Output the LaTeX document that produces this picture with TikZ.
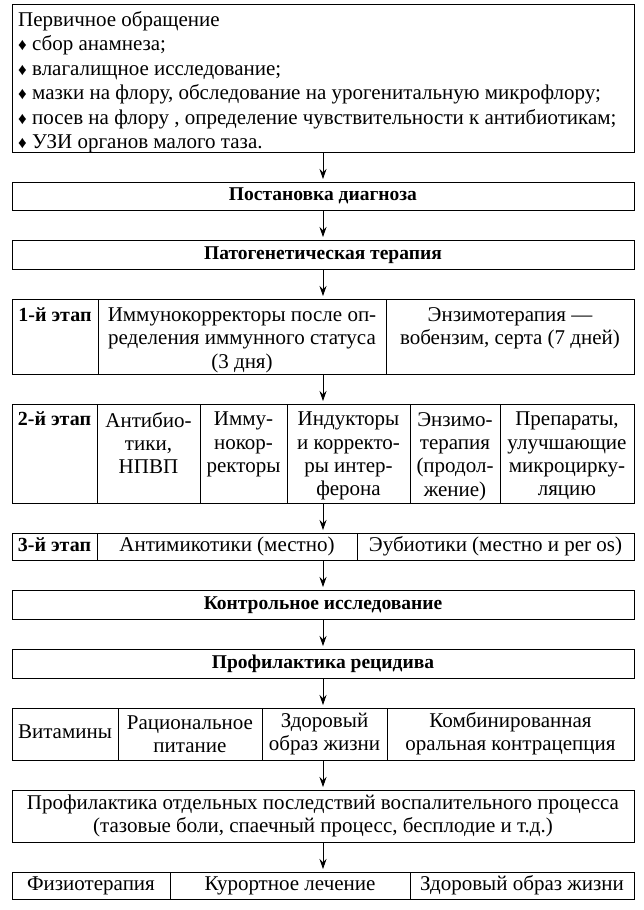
\documentclass[tikz,border=0pt]{standalone}
\usepackage{fontspec}
\setmainfont{Liberation Serif}
\usetikzlibrary{arrows.meta, positioning}
\newcommand{\itemmark}{{\fontsize{17}{17}\selectfont ♦}}
\tikzstyle{frame} = [rectangle, draw=black, line width=0.9pt, inner sep=0pt, outer sep=0pt, align=center, font=\fontsize{21}{23.3}\selectfont]
\tikzstyle{single} = [text height=14pt, text depth=4.5pt]
\tikzstyle{title} = [frame, single, minimum width=622pt, font=\bfseries\fontsize{19.5}{20}\selectfont]
\tikzstyle{row} = [frame, minimum width=622pt]
\tikzstyle{cell} = [frame, anchor=north west]
\tikzstyle{celltext} = [inner sep=0pt, align=center, font=\fontsize{21}{23.3}\selectfont]
\tikzstyle{stage} = [inner sep=0pt, font=\bfseries\fontsize{20}{20}\selectfont]
\tikzstyle{arrow} = [line width=0.8pt, -{Stealth[length=10pt, width=7pt]}, shorten >=3pt]

\begin{document}
\begin{tikzpicture}[node distance = 30pt]
		\useasboundingbox (0,0) rectangle (644pt,-910pt);
		\node (Visit) [row, minimum height=148pt, anchor=north west] at (12pt,-4pt) {};
		\node (VisitText) [celltext, align=left, font=\fontsize{21}{24.5}\selectfont, below right = 7pt and 6pt of Visit.north west] {Первичное обращение\\
			\itemmark\ сбор анамнеза;\\
			\itemmark\ влагалищное исследование;\\
			\itemmark\ мазки на флору, обследование на урогенитальную микрофлору;\\
			\itemmark\ посев на флору , определение чувствительности к антибиотикам;\\
			\itemmark\ УЗИ органов малого таза.};
		\node (Diag) [title, minimum height=28pt, below = of Visit.south west, anchor=north west] {Постановка диагноза};
		\node (Therapy) [title, minimum height=29pt, below = of Diag.south west, anchor=north west] {Патогенетическая терапия};
		% 1-st stage
		\node (StageOne) [row, minimum height=75pt, below = of Therapy.south west, anchor=north west] {};
		\node (StageOneA) [cell, minimum width=86pt, minimum height=75pt] at (StageOne.north west) {};
		\node (StageOneB) [cell, minimum width=288pt, minimum height=75pt] at (StageOneA.north east) {};
		\node (StageOneC) [cell, minimum width=248pt, minimum height=75pt] at (StageOneB.north east) {};
		\node (StageOneAText) [stage, below = 8.5pt of StageOneA.north] {1-й этап};
		\node (StageOneBText) [celltext, below = 8.5pt of StageOneB.north] {Иммунокорректоры после оп-\\ределения иммунного статуса\\(3 дня)};
		\node (StageOneCText) [celltext, below = 8.5pt of StageOneC.north] {Энзимотерапия —\\вобензим, серта (7 дней)};
		% 2-nd stage
		\node (StageTwo) [row, minimum height=99pt, below = of StageOne.south west, anchor=north west] {};
		\node (StageTwoA) [cell, minimum width=85pt, minimum height=99pt] at (StageTwo.north west) {};
		\node (StageTwoB) [cell, minimum width=103pt, minimum height=99pt] at (StageTwoA.north east) {};
		\node (StageTwoC) [cell, minimum width=87pt, minimum height=99pt] at (StageTwoB.north east) {};
		\node (StageTwoD) [cell, minimum width=123pt, minimum height=99pt] at (StageTwoC.north east) {};
		\node (StageTwoE) [cell, minimum width=90pt, minimum height=99pt] at (StageTwoD.north east) {};
		\node (StageTwoF) [cell, minimum width=134pt, minimum height=99pt] at (StageTwoE.north east) {};
		\node (StageTwoAText) [stage, below = 8pt of StageTwoA.north] {2-й этап};
		\node (StageTwoBText) [celltext, below = 8pt of StageTwoB.north] {Антибио-\\тики,\\НПВП};
		\node (StageTwoCText) [celltext, below = 8pt of StageTwoC.north] {Имму-\\нокор-\\ректоры};
		\node (StageTwoDText) [celltext, below = 8pt of StageTwoD.north] {Индукторы\\и корректо-\\ры интер-\\ферона};
		\node (StageTwoEText) [celltext, below = 8pt of StageTwoE.north] {Энзимо-\\терапия\\(продол-\\жение)};
		\node (StageTwoFText) [celltext, below = 8pt of StageTwoF.north] {Препараты,\\улучшающие\\микроцирку-\\ляцию};
		% 3-rd stage
		\node (StageThree) [row, minimum height=27pt, below = of StageTwo.south west, anchor=north west] {};
		\node (StageThreeA) [cell, single, minimum width=85pt, minimum height=27pt, font=\bfseries\fontsize{20}{20}\selectfont] at (StageThree.north west) {3-й этап};
		\node (StageThreeB) [cell, single, minimum width=260pt, minimum height=27pt] at (StageThreeA.north east) {Антимикотики (местно)};
		\node (StageThreeC) [cell, single, minimum width=277pt, minimum height=27pt] at (StageThreeB.north east) {Эубиотики (местно и per os)};
		\node (Control) [title, minimum height=29pt, below = of StageThree.south west, anchor=north west] {Контрольное исследование};
		\node (Relapse) [title, minimum height=29pt, below = of Control.south west, anchor=north west] {Профилактика рецидива};
		% prevention measures
		\node (Measures) [row, minimum height=52pt, below = of Relapse.south west, anchor=north west] {};
		\node (MeasuresA) [cell, single, minimum width=106pt, minimum height=52pt] at (Measures.north west) {Витамины};
		\node (MeasuresB) [cell, minimum width=144pt, minimum height=52pt] at (MeasuresA.north east) {Рациональное\\питание};
		\node (MeasuresC) [cell, minimum width=125pt, minimum height=52pt] at (MeasuresB.north east) {Здоровый\\образ жизни};
		\node (MeasuresD) [cell, minimum width=247pt, minimum height=52pt] at (MeasuresC.north east) {Комбинированная\\оральная контрацепция};
		\node (Sequelae) [row, minimum height=52pt, below = of Measures.south west, anchor=north west] {Профилактика отдельных последствий воспалительного процесса\\(тазовые боли, спаечный процесс, бесплодие и т.д.)};
		% rehabilitation
		\node (Rehab) [row, minimum height=27pt, below = of Sequelae.south west, anchor=north west] {};
		\node (RehabA) [cell, single, minimum width=158pt, minimum height=27pt] at (Rehab.north west) {Физиотерапия};
		\node (RehabB) [cell, single, minimum width=240pt, minimum height=27pt] at (RehabA.north east) {Курортное лечение};
		\node (RehabC) [cell, single, minimum width=224pt, minimum height=27pt] at (RehabB.north east) {Здоровый образ жизни};
		\draw [arrow] (Visit) -- (Diag);
		\draw [arrow] (Diag) -- (Therapy);
		\draw [arrow] (Therapy) -- (StageOne);
		\draw [arrow] (StageOne) -- (StageTwo);
		\draw [arrow] (StageTwo) -- (StageThree);
		\draw [arrow] (StageThree) -- (Control);
		\draw [arrow] (Control) -- (Relapse);
		\draw [arrow] (Relapse) -- (Measures);
		\draw [arrow] (Measures) -- (Sequelae);
		\draw [arrow] (Sequelae) -- (Rehab);
\end{tikzpicture}
\end{document}
